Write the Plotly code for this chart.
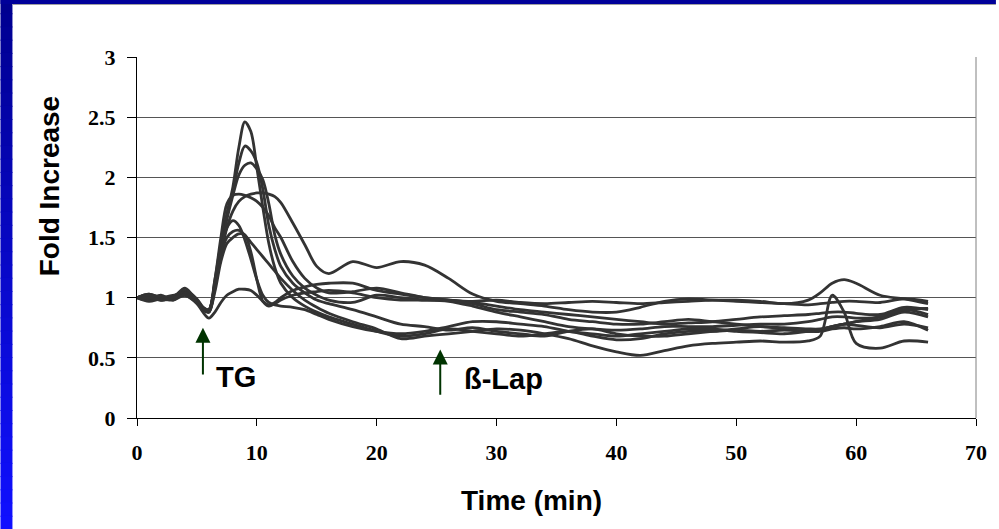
import plotly.graph_objects as go

# ---------------- data ----------------
time_min = [0, 1, 2, 3, 4, 5,
            5.5, 6, 6.5, 7, 7.5, 8, 8.5, 9, 9.5, 10, 10.5, 11, 11.5, 12,
            13, 14, 15, 16,
            18, 20, 22, 24, 26, 28, 30, 32, 34, 36, 38, 40, 42, 44, 46, 48, 50, 52, 54, 56,
            57, 58, 59, 60,
            62, 64, 66]

cell_a = [1.00, 1.02, 0.99, 1.00, 1.03, 0.97,
          0.92, 0.90, 1.15, 1.45, 1.70, 1.92, 2.25, 2.46, 2.38, 2.08, 1.75, 1.45, 1.25, 1.12,
          1.00, 0.93, 0.88, 0.84,
          0.78, 0.72, 0.68, 0.70, 0.74, 0.72, 0.70, 0.68, 0.70, 0.72, 0.68, 0.65, 0.66, 0.70, 0.72, 0.72, 0.73, 0.72, 0.73, 0.72,
          0.72, 0.74, 0.75, 0.74,
          0.76, 0.80, 0.73]
cell_b = [1.00, 0.98, 1.01, 0.99, 1.05, 0.98,
          0.91, 0.89, 1.12, 1.42, 1.68, 1.88, 2.12, 2.26, 2.22, 2.12, 1.90, 1.60, 1.40, 1.26,
          1.12, 1.04, 0.98, 0.95,
          0.90, 0.84, 0.78, 0.76, 0.73, 0.75, 0.72, 0.70, 0.68, 0.72, 0.74, 0.70, 0.68, 0.68, 0.70, 0.72, 0.74, 0.76, 0.74, 0.72,
          0.73, 0.76, 0.78, 0.80,
          0.82, 0.88, 0.84]
cell_c = [1.00, 1.03, 1.00, 1.01, 1.06, 0.99,
          0.92, 0.88, 1.10, 1.40, 1.65, 1.85, 2.02, 2.10, 2.12, 2.07, 1.98, 1.78, 1.52, 1.36,
          1.18, 1.08, 1.02, 0.98,
          0.96, 1.02, 1.00, 0.98, 0.98, 0.96, 0.93, 0.90, 0.88, 0.86, 0.84, 0.82, 0.80, 0.78, 0.79, 0.80, 0.82, 0.84, 0.85, 0.86,
          0.87, 0.88, 0.88, 0.87,
          0.86, 0.92, 0.90]
cell_d = [1.00, 0.99, 1.02, 0.98, 1.04, 0.96,
          0.90, 0.88, 1.08, 1.35, 1.58, 1.72, 1.80, 1.84, 1.86, 1.87, 1.87, 1.86, 1.84, 1.79,
          1.62, 1.44, 1.26, 1.20,
          1.30, 1.25, 1.30, 1.27, 1.16, 1.03, 0.97, 0.95, 0.93, 0.90, 0.88, 0.88, 0.92, 0.97, 0.99, 0.98, 0.98, 0.97, 0.95, 0.98,
          1.04, 1.12, 1.15, 1.12,
          1.02, 0.99, 0.95]
cell_e = [1.00, 1.01, 0.98, 1.00, 1.08, 0.97,
          0.91, 0.90, 1.15, 1.50, 1.78, 1.85, 1.86, 1.85, 1.83, 1.80, 1.75, 1.68, 1.58, 1.50,
          1.30, 1.16, 1.08, 1.04,
          1.05, 1.08, 1.04, 1.00, 0.98, 0.97, 0.98, 0.96, 0.95, 0.96, 0.97, 0.96, 0.95, 0.96, 0.97, 0.98, 0.97, 0.96, 0.95, 0.94,
          0.95, 0.96, 0.97, 0.97,
          0.96, 0.99, 0.97]
cell_f = [1.00, 1.03, 1.00, 1.02, 1.04, 0.98,
          0.92, 0.90, 1.12, 1.40, 1.58, 1.64, 1.60, 1.48, 1.32, 1.15, 1.02, 0.96, 0.94, 0.93,
          0.92, 0.90, 0.86, 0.82,
          0.76, 0.72, 0.70, 0.72, 0.76, 0.80, 0.80, 0.78, 0.76, 0.72, 0.70, 0.68, 0.70, 0.72, 0.74, 0.74, 0.72, 0.71, 0.70, 0.72,
          0.73, 0.76, 0.78, 0.77,
          0.75, 0.78, 0.75]
cell_g = [1.00, 0.97, 0.99, 0.98, 1.02, 0.96,
          0.91, 0.90, 1.10, 1.35, 1.50, 1.55, 1.56, 1.52, 1.46, 1.40, 1.34, 1.28, 1.22, 1.16,
          1.06, 0.98, 0.92, 0.87,
          0.80, 0.74, 0.66, 0.68, 0.70, 0.72, 0.74, 0.73, 0.70, 0.66, 0.60, 0.55, 0.52, 0.56, 0.60, 0.62, 0.63, 0.64, 0.63, 0.64,
          0.68, 1.02, 0.88, 0.62,
          0.58, 0.64, 0.63]
cell_h = [1.00, 1.02, 0.98, 1.00, 1.03, 0.97,
          0.90, 0.88, 1.05, 1.30, 1.45, 1.50, 1.53, 1.52, 1.38, 1.15, 0.97, 0.93, 0.95, 0.98,
          1.02, 1.04, 1.05, 1.06,
          1.04, 1.00, 0.98, 0.98, 0.97, 0.93, 0.88, 0.84, 0.80, 0.76, 0.74, 0.73, 0.74, 0.76, 0.76, 0.76, 0.77, 0.78, 0.78, 0.80,
          0.82, 0.84, 0.84, 0.83,
          0.84, 0.90, 0.91]
cell_i = [1.00, 1.00, 0.98, 1.00, 1.02, 0.95,
          0.88, 0.83, 0.88, 0.96, 1.02, 1.05, 1.07, 1.07, 1.06, 1.02, 0.97, 0.94, 0.96, 1.00,
          1.06, 1.09, 1.11, 1.12,
          1.12, 1.06, 1.03, 1.00, 0.98, 0.95, 0.90, 0.88, 0.86, 0.82, 0.80, 0.78, 0.78, 0.80, 0.82, 0.80, 0.78, 0.76, 0.75, 0.74,
          0.74, 0.76, 0.78, 0.80,
          0.84, 0.90, 0.86]

series = [cell_a, cell_b, cell_c, cell_d, cell_e, cell_f, cell_g, cell_h, cell_i]

x_ticks = [0, 10, 20, 30, 40, 50, 60, 70]
y_ticks = [0, 0.5, 1, 1.5, 2, 2.5, 3]
y_tick_labels = ["0", "0.5", "1", "1.5", "2", "2.5", "3"]

# ---------------- layout geometry ----------------
W, H = 999, 529
L, R, T, B = 137, 20, 57, 111
PW, PH = W - L - R, H - T - B


def px_x(p):
    return (p - L) / PW


def px_y(p):
    return (H - B - p) / PH


fig = go.Figure()
for s in series:
    fig.add_trace(go.Scatter(x=time_min, y=s, mode="lines",
                             line=dict(color="#333333", width=2.8, shape="spline", smoothing=0.9),
                             hoverinfo="skip", showlegend=False))

tickfont = dict(family="Liberation Serif", size=22, color="black", weight="bold")

fig.update_layout(
    width=W, height=H,
    margin=dict(l=L, r=R, t=T, b=B),
    paper_bgcolor="white", plot_bgcolor="white",
    xaxis=dict(range=[0, 70], tickvals=x_ticks, ticks="outside", ticklen=7, tickcolor="black",
               showline=True, linecolor="black", linewidth=1, showgrid=False, zeroline=False,
               tickfont=tickfont, ticklabelstandoff=8),
    yaxis=dict(range=[0, 3], tickvals=y_ticks, ticktext=y_tick_labels, ticks="outside", ticklen=9,
               tickcolor="black", showline=True, linecolor="black", linewidth=1,
               showgrid=True, gridcolor="#555555", gridwidth=1, zeroline=False,
               tickfont=tickfont, ticklabelstandoff=7),
)

shapes = []
# blue gradient frame on the left, dark band on top
N = 40
c0 = (0, 0, 0x90)
c1 = (0x10, 0x10, 0xff)
for i in range(N):
    t = i / (N - 1)
    col = "rgb(%d,%d,%d)" % tuple(round(a + (b - a) * t) for a, b in zip(c0, c1))
    shapes.append(dict(type="rect", xref="paper", yref="paper",
                       x0=px_x(0), x1=px_x(12), y0=px_y(i * H / N), y1=px_y((i + 1) * H / N + 1),
                       fillcolor=col, line=dict(width=0), layer="above"))
shapes.append(dict(type="rect", xref="paper", yref="paper",
                   x0=px_x(0), x1=px_x(W), y0=px_y(0), y1=px_y(4),
                   fillcolor="#000099", line=dict(width=0), layer="above"))
shapes.append(dict(type="line", xref="paper", yref="paper",
                   x0=px_x(12), x1=px_x(W), y0=px_y(4.5), y1=px_y(4.5),
                   line=dict(color="#a0a0a0", width=1)))
# plot-area right border
shapes.append(dict(type="line", xref="paper", yref="paper", x0=1, x1=1, y0=0, y1=1,
                   line=dict(color="#808080", width=1)))
fig.update_layout(shapes=shapes)

title_font = dict(family="Liberation Sans", size=28, color="black", weight="bold")
ann = [
    dict(text="Fold Increase", xref="paper", yref="paper", x=px_x(49), y=px_y(186),
         textangle=-90, showarrow=False, font=title_font, xanchor="center", yanchor="middle"),
    dict(text="Time (min)", xref="paper", yref="paper", x=px_x(533), y=px_y(500),
         showarrow=False, font=title_font, xanchor="center", yanchor="middle"),
    dict(text="TG", x=8.3, y=0.34, xref="x", yref="y", showarrow=False,
         font=dict(family="Liberation Sans", size=29, color="black", weight="bold")),
    dict(text="ß-Lap", x=30.55, y=0.32, xref="x", yref="y", showarrow=False,
         font=dict(family="Liberation Sans", size=29, color="black", weight="bold")),
    dict(text="", x=5.5, y=0.75, ax=5.5, ay=0.35, xref="x", yref="y", axref="x", ayref="y",
         showarrow=True, arrowhead=2, arrowsize=1.5, arrowwidth=2, arrowcolor="#003300"),
    dict(text="", x=25.3, y=0.57, ax=25.3, ay=0.18, xref="x", yref="y", axref="x", ayref="y",
         showarrow=True, arrowhead=2, arrowsize=1.5, arrowwidth=2, arrowcolor="#003300"),
]
fig.update_layout(annotations=ann)

fig.write_html("out.html", config={"displayModeBar": False},
               post_script="document.body.style.margin='0';document.body.style.padding='0';")
